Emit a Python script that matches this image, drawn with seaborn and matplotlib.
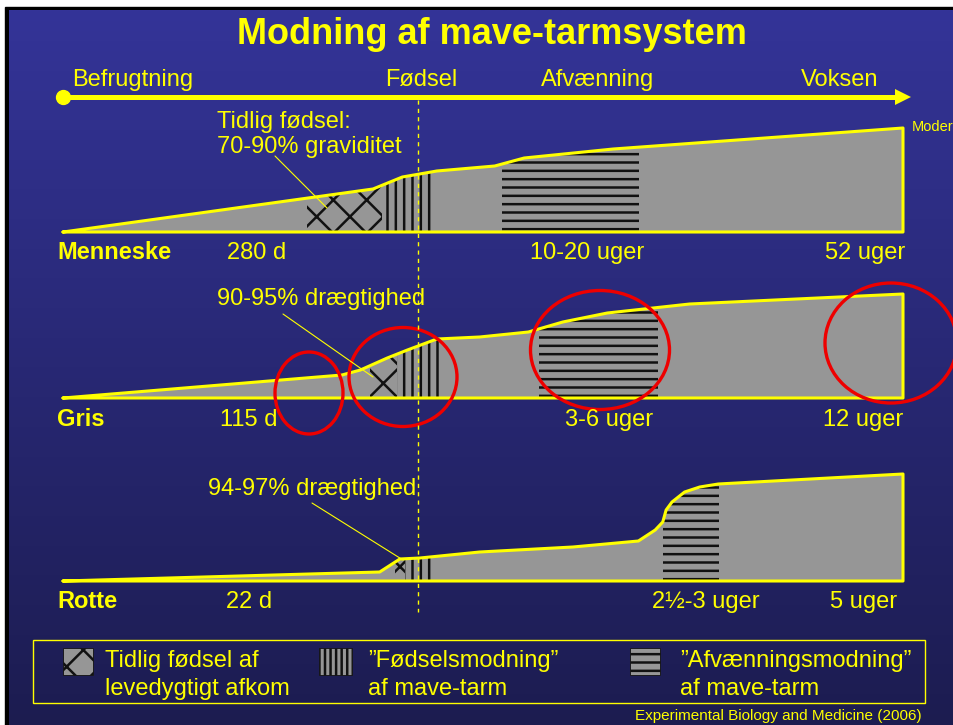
import numpy as np
import matplotlib.pyplot as plt
import seaborn as sns
from matplotlib.patches import Ellipse, Rectangle

# ---- data -------------------------------------------------------------
title = "Modning af mave-tarmsystem"
stages = ["Befrugtning", "Fødsel", "Afvænning", "Voksen"]

species = ["Menneske", "Gris", "Rotte"]
gestation = ["280 d", "115 d", "22 d"]
weaning = ["10-20 uger", "3-6 uger", "2½-3 uger"]
adult = ["52 uger", "12 uger", "5 uger"]
preterm_notes = ["Tidlig fødsel:\n70-90% graviditet", "90-95% drægtighed", "94-97% drægtighed"]

# maturity profile: position on timeline (% from conception to adult) and maturity level
human_t = [0, 36.9, 40.4, 44.5, 51.4, 54.9, 65.5, 100]
human_m = [0, 43, 55, 61, 66, 74, 83, 104]
pig_t = [0, 33.2, 35.4, 38.6, 41.0, 44.5, 49.6, 55.4, 59.5, 64.8, 74.6, 100]
pig_m = [0, 23, 28, 40, 48, 59, 61, 66, 76, 85, 94, 104]
rat_t = [0, 37.7, 40.1, 42.5, 49.6, 60.7, 68.5, 70.5, 71.4, 71.8, 72.5, 74.0, 75.8, 78.0, 100]
rat_m = [0, 9, 22, 23, 29, 34, 40, 51, 59, 71, 79, 89, 94, 97, 107]

# hatched windows (timeline %): viable preterm birth, birth maturation, weaning maturation
human_windows = [(29.0, 38.0), (38.0, 43.9), (52.3, 68.6)]
pig_windows = [(36.5, 39.8), (39.8, 44.9), (56.7, 70.8)]
rat_windows = [(39.5, 40.7), (40.7, 43.9), (71.4, 78.1)]

legend_labels = ["Tidlig fødsel af\nlevedygtigt afkom",
                 "”Fødselsmodning”\naf mave-tarm",
                 "”Afvænningsmodning”\naf mave-tarm"]
source = "Experimental Biology and Medicine (2006)"

# ---- style ------------------------------------------------------------
sns.set_theme(style="white")
plt.rcParams["font.family"] = ["Liberation Sans", "DejaVu Sans"]
plt.rcParams["hatch.linewidth"] = 1.8
plt.rcParams["hatch.color"] = "#111111"

YELLOW = "#ffff00"
GRAY = "#969696"
RED = "#ee0000"
W, H = 954, 725

fig = plt.figure(figsize=(W / 100, H / 100), dpi=100)
fig.patch.set_facecolor("white")

# background: black frame + blue gradient
bg = fig.add_axes([0, 0, 1, 1])
bg.add_patch(Rectangle((5, 7), 1000, 1000, color="black", zorder=0))
grad = np.linspace(0, 1, 256)[:, None]
top_c, bot_c = np.array([52, 52, 152]) / 255, np.array([28, 28, 80]) / 255
img = top_c[None, None, :] * (1 - grad[:, :, None]) + bot_c[None, None, :] * grad[:, :, None]
bg.imshow(img, extent=[9, W, H, 10], aspect="auto", zorder=1)
bg.set_xlim(0, W)
bg.set_ylim(H, 0)
bg.axis("off")

# title and timeline
bg.text(492, 44, title, ha="center", va="baseline", fontsize=26, weight="bold", color=YELLOW)
bg.plot([63, 900], [97, 97], color=YELLOW, lw=3.6, solid_capstyle="butt", zorder=3)
bg.plot([63], [97], "o", color=YELLOW, ms=10, zorder=3)
bg.plot([903], [97], ">", color=YELLOW, ms=12, mew=0, zorder=3)
stage_x = [72, 421, 598, 840]
stage_ha = ["left", "center", "center", "center"]
for s, x, ha in zip(stages, stage_x, stage_ha):
    bg.text(x, 86, s, ha=ha, va="baseline", fontsize=17, color=YELLOW)

# species profiles
profiles = [(human_t, human_m, human_windows),
            (pig_t, pig_m, pig_windows),
            (rat_t, rat_m, rat_windows)]
hatches = ["x", "||", "--"]
baselines = [232, 398, 581]
x0, x1 = 63, 903

for (t, m, windows), base in zip(profiles, baselines):
    sax = fig.add_axes([x0 / W, (H - base) / H, (x1 - x0) / W, 112 / H])
    sax.patch.set_alpha(0)
    poly = sax.fill_between(t, 0, m, color=GRAY, lw=0, zorder=1)
    clip = poly.get_paths()[0]
    for (a, b), hatch in zip(windows, hatches):
        hp = sax.fill_between([a, b], 0, 112, facecolor="none", edgecolor="#111111",
                              lw=0, hatch=hatch, zorder=2)
        hp.set_clip_path(clip, sax.transData)
    ox = list(t) + [100, 0]
    oy = list(m) + [0, 0]
    sns.lineplot(x=ox, y=oy, sort=False, estimator=None, color=YELLOW, lw=2.2, ax=sax, zorder=3)
    for ln in sax.lines:
        ln.set_clip_on(False)
    sax.set_xlim(0, 100)
    sax.set_ylim(0, 112)
    sax.axis("off")

# overlay: labels, annotations, circles
ov = fig.add_axes([0, 0, 1, 1])
ov.patch.set_alpha(0)
ov.set_xlim(0, W)
ov.set_ylim(H, 0)
ov.axis("off")

ov.plot([418, 418], [100, 612], color=YELLOW, lw=1, dashes=(3, 3))

label_base = [259, 426, 608]
gest_x = [227, 220, 226]
wean_x = [530, 565, 652]
adult_x = [905, 903, 897]
for i in range(3):
    y = label_base[i]
    ov.text(57, y, species[i], ha="left", va="baseline", fontsize=17, weight="bold", color=YELLOW)
    ov.text(gest_x[i], y, gestation[i], ha="left", va="baseline", fontsize=17, color=YELLOW)
    ov.text(wean_x[i], y, weaning[i], ha="left", va="baseline", fontsize=17, color=YELLOW)
    ov.text(adult_x[i], y, adult[i], ha="right", va="baseline", fontsize=17, color=YELLOW)

note_xy = [(217, 153), (217, 305), (208, 495)]
leaders = [((275, 156), (327, 208)), ((283, 314), (373, 377)), ((312, 503), (403, 560))]
for note, (nx, ny), (p, q) in zip(preterm_notes, note_xy, leaders):
    ov.text(nx, ny, note, ha="left", va="baseline", fontsize=17, color=YELLOW, linespacing=1.15)
    ov.plot([p[0], q[0]], [p[1], q[1]], color=YELLOW, lw=0.8)

ov.text(912, 131, "Moder", ha="left", va="baseline", fontsize=10.5, color=YELLOW)

for (cx, cy, ew, eh) in [(309, 393, 68, 82), (403, 377, 108, 99),
                         (600, 350, 139, 119), (891, 343, 132, 120)]:
    ov.add_patch(Ellipse((cx, cy), ew, eh, fill=False, edgecolor=RED, lw=2.4))

# legend box
ov.add_patch(Rectangle((33, 640), 892, 63, fill=False, edgecolor=YELLOW, lw=1))
sw_x = [63, 319, 630]
sw_w = [30, 33, 30]
sw_hatch = ["x", "|||", "--"]
txt_x = [105, 368, 680]
for lab, sx, sw, sh, tx in zip(legend_labels, sw_x, sw_w, sw_hatch, txt_x):
    ov.add_patch(Rectangle((sx, 648), sw, 27, facecolor=GRAY, edgecolor="#111111",
                           lw=0.6, hatch=sh))
    first, second = lab.split("\n")
    ov.text(tx, 667, first, ha="left", va="baseline", fontsize=17, color=YELLOW)
    ov.text(tx, 695, second, ha="left", va="baseline", fontsize=17, color=YELLOW)

ov.text(922, 720, source, ha="right", va="baseline", fontsize=11, color=YELLOW)

fig.savefig("out.png", dpi=100)
